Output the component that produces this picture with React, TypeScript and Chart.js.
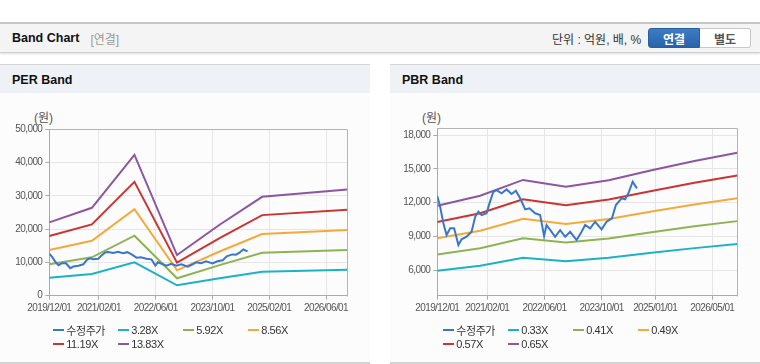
import React, { useEffect, useRef } from "react";
import { Chart, registerables } from "chart.js";
Chart.register(...registerables);

// ---- shared price series (month index from 2019/12) ----
const priceMonths = [0, 0.8, 1.7, 2.6, 3.6, 4.7, 5.2, 5.9, 6.8, 8.2, 9.6, 10.6, 11.5, 12.4, 13.8, 14.6, 15.7, 16.6, 18, 19.4, 20.8, 22, 23.2, 24.6, 25.8, 27.4, 28.8, 29.9, 30.6, 31.5, 33, 34.4, 35.8, 37.2, 39, 40.4, 41.4, 42.8, 44.2, 46, 47.4, 48.9, 50, 51.6, 52.6, 53.5, 54.7, 55.9];
const priceValues = [12590, 11640, 10170, 9130, 9730, 9730, 9130, 8240, 8750, 8980, 9420, 10750, 11200, 10900, 11060, 11940, 12970, 13120, 12830, 13180, 12770, 13060, 12390, 11410, 11500, 11060, 10900, 9040, 10020, 9640, 8980, 9570, 8980, 9420, 8690, 9420, 10020, 9730, 10310, 9640, 10310, 10610, 11790, 12390, 12300, 12830, 13860, 13270];

// ---- PER band ----
const perBandMonths = [0, 12, 24, 36, 48, 60, 84];
const per328 = [5400, 6500, 10000, 3100, 5200, 7150, 7800];
const per592 = [9400, 11500, 18000, 5200, 9150, 12900, 13700];
const per856 = [13700, 16500, 26000, 7600, 13250, 18500, 19700];
const per1119 = [17900, 21400, 34200, 9900, 17300, 24200, 25800];
const per1383 = [22000, 26400, 42300, 12200, 21300, 29700, 31900];
const perLabels = ["수정주가", "3.28X", "5.92X", "8.56X", "11.19X", "13.83X"];
const perXTicks = [0, 14, 30, 46, 62, 78];
const perXLabels = ["2019/12/01", "2021/02/01", "2022/06/01", "2023/10/01", "2025/02/01", "2026/06/01"];
const perYTicks = [0, 10000, 20000, 30000, 40000, 50000];

// ---- PBR band ----
const pbrBandMonths = [0, 12, 24, 36, 48, 60, 72, 84];
const pbr033 = [5957, 6409, 7118, 6815, 7108, 7550, 7970, 8342];
const pbr041 = [7401, 7962, 8844, 8467, 8831, 9381, 9902, 10365];
const pbr049 = [8845, 9516, 10569, 10119, 10555, 11211, 11834, 12387];
const pbr057 = [10289, 11069, 12295, 11771, 12278, 13042, 13766, 14410];
const pbr065 = [11733, 12623, 14021, 13423, 14001, 14872, 15698, 16432];
const pbrLabels = ["수정주가", "0.33X", "0.41X", "0.49X", "0.57X", "0.65X"];
const pbrXTicks = [0, 14, 30, 46, 61, 77];
const pbrXLabels = ["2019/12/01", "2021/02/01", "2022/06/01", "2023/10/01", "2025/01/01", "2026/05/01"];
const pbrYTicks = [6000, 9000, 12000, 15000, 18000];

const colors = ["#3a77c9", "#1cb2c6", "#8fb353", "#f4a93b", "#cc3434", "#8c56a0"];

const tickFont = "'Liberation Sans', Arial, sans-serif";
const uiFont = "'Liberation Sans', 'Noto Sans CJK KR', sans-serif";

const framePlugin = {
  id: "frame",
  beforeDraw(chart: any) {
    (chart.ctx as any).letterSpacing = "-0.6px";
  },
  afterDraw(chart: any) {
    (chart.ctx as any).letterSpacing = "0px";
  },
  beforeDatasetsDraw(chart: any) {
    const { ctx, chartArea } = chart;
    const l = Math.round(chartArea.left) + 0.5;
    const t = Math.round(chartArea.top) + 0.5;
    const r = Math.round(chartArea.right) + 0.5;
    const b = Math.round(chartArea.bottom) + 0.5;
    ctx.save();
    ctx.strokeStyle = "#b4b4b4";
    ctx.lineWidth = 1;
    ctx.beginPath();
    ctx.moveTo(l, t);
    ctx.lineTo(r, t);
    ctx.lineTo(r, b);
    ctx.stroke();
    ctx.restore();
  },
};

type Series = { label: string; x: number[]; y: number[]; color: string };

function BandChart(props: {
  left: number; top: number; width: number; height: number;
  yAxisWidth: number; padTop: number; padRight: number; xAxisHeight: number;
  yMin: number; yMax: number; yTicks: number[]; xTicks: number[]; xLabels: string[];
  series: Series[];
}) {
  const ref = useRef<HTMLCanvasElement>(null);
  useEffect(() => {
    const p = props;
    const chart = new Chart(ref.current as HTMLCanvasElement, {
      type: "line",
      data: {
        datasets: p.series.map((s) => ({
          label: s.label,
          data: s.x.map((m, i) => ({ x: m, y: s.y[i] })),
          borderColor: s.color,
          backgroundColor: s.color,
          borderWidth: 2,
          pointRadius: 0,
          tension: 0,
          fill: false,
        })),
      },
      options: {
        responsive: false,
        animation: false,
        devicePixelRatio: 1,
        layout: { padding: { top: p.padTop, right: p.padRight, left: 0, bottom: 0 } },
        plugins: { legend: { display: false }, tooltip: { enabled: false } },
        scales: {
          x: {
            type: "linear",
            min: 0,
            max: 84,
            afterBuildTicks: (s: any) => { s.ticks = p.xTicks.map((v) => ({ value: v })); },
            afterFit: (s: any) => { s.height = p.xAxisHeight; },
            ticks: {
              autoSkip: false,
              maxRotation: 0,
              padding: 3,
              color: "#555",
              font: { family: tickFont, size: 10 },
              callback: (_v: any, i: number) => p.xLabels[i],
            },
            grid: { color: "#e6e6e6", tickColor: "#aaa", tickLength: 4 },
            border: { color: "#aaa" },
          },
          y: {
            type: "linear",
            min: p.yMin,
            max: p.yMax,
            afterBuildTicks: (s: any) => { s.ticks = p.yTicks.map((v) => ({ value: v })); },
            afterFit: (s: any) => { s.width = p.yAxisWidth; },
            ticks: {
              padding: 3,
              color: "#555",
              font: { family: tickFont, size: 10 },
              callback: (v: any) => Number(v).toLocaleString("en-US"),
            },
            grid: { color: "#e6e6e6", tickColor: "#aaa", tickLength: 4 },
            border: { color: "#aaa" },
          },
        },
      } as any,
      plugins: [framePlugin],
    });
    return () => chart.destroy();
  }, []);
  return (
    <canvas
      ref={ref}
      width={props.width}
      height={props.height}
      style={{ position: "absolute", left: props.left, top: props.top, width: props.width, height: props.height }}
    />
  );
}

function Legend({ left, labels }: { left: number; labels: string[] }) {
  return (
    <>
      {labels.map((lab, i) => {
        const col = i % 4;
        const row = Math.floor(i / 4);
        return (
          <div
            key={lab}
            style={{
              position: "absolute",
              left: left + 52.7 + col * 65,
              top: (row === 0 ? 330 : 343.5) - 7,
              height: 14,
              display: "flex",
              alignItems: "center",
              fontFamily: uiFont,
              fontSize: 11,
              letterSpacing: "-0.4px",
              color: "#333",
              whiteSpace: "nowrap",
            }}
          >
            <span style={{ display: "inline-block", width: 11, height: 2, background: colors[i], marginRight: 2.5 }} />
            <span>{lab}</span>
          </div>
        );
      })}
    </>
  );
}

function Panel({ left, title }: { left: number; title: string }) {
  return (
    <div
      style={{
        position: "absolute",
        left,
        top: 64,
        width: 370,
        height: 297,
        background: "#fcfcfc",
        borderTop: "1px solid #d6d6d6",
        borderBottom: "2px solid #d2d2d2",
      }}
    >
      <div
        style={{
          height: 28,
          background: "#eef1f6",
          display: "flex",
          alignItems: "center",
          paddingLeft: 12,
          paddingTop: 1,
          boxSizing: "border-box",
          fontFamily: uiFont,
          fontWeight: "bold",
          fontSize: 12.5,
          color: "#111",
        }}
      >
        {title}
      </div>
    </div>
  );
}

export default function App() {
  const perSeries: Series[] = [
    { label: perLabels[0], x: priceMonths, y: priceValues, color: colors[0] },
    { label: perLabels[1], x: perBandMonths, y: per328, color: colors[1] },
    { label: perLabels[2], x: perBandMonths, y: per592, color: colors[2] },
    { label: perLabels[3], x: perBandMonths, y: per856, color: colors[3] },
    { label: perLabels[4], x: perBandMonths, y: per1119, color: colors[4] },
    { label: perLabels[5], x: perBandMonths, y: per1383, color: colors[5] },
  ];
  const pbrSeries: Series[] = [
    { label: pbrLabels[0], x: priceMonths, y: priceValues, color: colors[0] },
    { label: pbrLabels[1], x: pbrBandMonths, y: pbr033, color: colors[1] },
    { label: pbrLabels[2], x: pbrBandMonths, y: pbr041, color: colors[2] },
    { label: pbrLabels[3], x: pbrBandMonths, y: pbr049, color: colors[3] },
    { label: pbrLabels[4], x: pbrBandMonths, y: pbr057, color: colors[4] },
    { label: pbrLabels[5], x: pbrBandMonths, y: pbr065, color: colors[5] },
  ];
  return (
    <div
      style={{
        position: "absolute",
        left: 0,
        top: 0,
        width: 760,
        height: 364,
        background: "#fff",
        overflow: "hidden",
        fontFamily: uiFont,
      }}
    >
      {/* header */}
      <div
        style={{
          position: "absolute",
          left: 0,
          top: 22,
          width: 760,
          height: 28,
          background: "#f4f4f4",
          borderTop: "2px solid #c6c6c6",
          borderBottom: "1px solid #d0d0d0",
          boxShadow: "0 1px 2px rgba(0,0,0,0.12)",
        }}
      >
        <div style={{ position: "absolute", left: 12, top: 0, height: 28, display: "flex", alignItems: "center", whiteSpace: "nowrap" }}>
          <span style={{ fontWeight: "bold", fontSize: 12.5, color: "#111" }}>Band Chart</span>
          <span style={{ fontSize: 12, color: "#999", marginLeft: 11 }}>[연결]</span>
        </div>
        <div style={{ position: "absolute", left: 552, top: 0, height: 28, display: "flex", alignItems: "center", fontSize: 12, color: "#333", whiteSpace: "nowrap" }}>
          단위 : 억원, 배, %
        </div>
        <div style={{ position: "absolute", left: 648, top: 4, height: 20, width: 103, display: "flex" }}>
          <div
            style={{
              width: 52,
              height: 20,
              boxSizing: "border-box",
              background: "linear-gradient(#3b7cc6, #2a63a9)",
              border: "1px solid #2a5f9e",
              borderRadius: "3px 0 0 3px",
              color: "#fff",
              fontWeight: "bold",
              fontSize: 12,
              display: "flex",
              alignItems: "center",
              justifyContent: "center",
            }}
          >
            연결
          </div>
          <div
            style={{
              width: 51,
              height: 20,
              boxSizing: "border-box",
              background: "#fff",
              border: "1px solid #c8c8c8",
              borderLeft: "none",
              borderRadius: "0 3px 3px 0",
              color: "#555",
              fontWeight: "bold",
              fontSize: 12,
              display: "flex",
              alignItems: "center",
              justifyContent: "center",
            }}
          >
            별도
          </div>
        </div>
      </div>

      <Panel left={0} title="PER Band" />
      <Panel left={390} title="PBR Band" />

      <div style={{ position: "absolute", left: 34, top: 111, fontSize: 12, color: "#555", lineHeight: "14px" }}>(원)</div>
      <div style={{ position: "absolute", left: 422, top: 111, fontSize: 12, color: "#555", lineHeight: "14px" }}>(원)</div>

      <BandChart
        left={0}
        top={93}
        width={370}
        height={232}
        yAxisWidth={49.3}
        padTop={36.3}
        padRight={22.7}
        xAxisHeight={29.4}
        yMin={0}
        yMax={50000}
        yTicks={perYTicks}
        xTicks={perXTicks}
        xLabels={perXLabels}
        series={perSeries}
      />
      <BandChart
        left={390}
        top={93}
        width={370}
        height={232}
        yAxisWidth={47.3}
        padTop={35.3}
        padRight={22.7}
        xAxisHeight={29.3}
        yMin={3750}
        yMax={18600}
        yTicks={pbrYTicks}
        xTicks={pbrXTicks}
        xLabels={pbrXLabels}
        series={pbrSeries}
      />

      <Legend left={0} labels={perLabels} />
      <Legend left={390} labels={pbrLabels} />
    </div>
  );
}
